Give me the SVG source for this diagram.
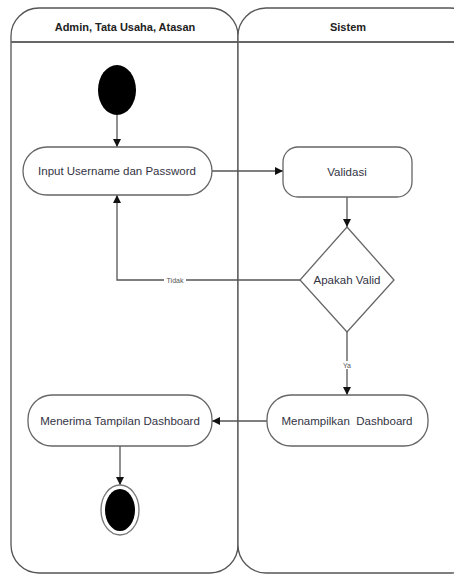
<svg xmlns="http://www.w3.org/2000/svg" width="454" height="575" viewBox="0 0 454 575">
<style>
.lane{fill:#fff;stroke:#555;stroke-width:1.3}
.hdr{font-family:"Liberation Sans",Arial,sans-serif;font-size:11px;font-weight:bold;fill:#222;text-anchor:middle}
.box{fill:#fff;stroke:#666;stroke-width:1.3}
.t{font-family:"Liberation Sans",Arial,sans-serif;font-size:11.5px;fill:#334;text-anchor:middle;dominant-baseline:central}
.c{fill:none;stroke:#555;stroke-width:1.3}
.lbl{font-family:"Liberation Sans",Arial,sans-serif;font-size:7px;fill:#555;text-anchor:middle;dominant-baseline:central}
</style>
<defs>
<marker id="ah" viewBox="0 0 10 10" refX="10" refY="5" markerWidth="8" markerHeight="8" markerUnits="userSpaceOnUse" orient="auto">
<path d="M0,0 L10,5 L0,10 z" fill="#111"/>
</marker>
</defs>
<g id="lane-admin">
<rect class="lane" x="11" y="8" width="227" height="565" rx="28" ry="28"/>
<line x1="11" y1="42" x2="238" y2="42" stroke="#666" stroke-width="2"/>
<text class="hdr" x="125" y="31">Admin, Tata Usaha, Atasan</text>
</g>
<g id="lane-sistem">
<rect class="lane" x="238" y="8" width="240" height="565" rx="28" ry="28"/>
<line x1="238" y1="42" x2="454" y2="42" stroke="#666" stroke-width="2"/>
<text class="hdr" x="348" y="31">Sistem</text>
</g>
<g id="connectors">
<line class="c" x1="117" y1="115" x2="117" y2="147" marker-end="url(#ah)"/>
<line class="c" x1="212" y1="171" x2="283" y2="171" marker-end="url(#ah)"/>
<line class="c" x1="347" y1="197" x2="347" y2="227" marker-end="url(#ah)"/>
<polyline class="c" points="300,280 117,280 117,195" marker-end="url(#ah)"/>
<rect x="164" y="276" width="22" height="8" fill="#fff"/>
<text class="lbl" x="175" y="280">Tidak</text>
<line class="c" x1="347" y1="332" x2="347" y2="395" marker-end="url(#ah)"/>
<rect x="340" y="361" width="14" height="8" fill="#fff"/>
<text class="lbl" x="347" y="365">Ya</text>
<line class="c" x1="267" y1="421" x2="212" y2="421" marker-end="url(#ah)"/>
<line class="c" x1="120" y1="446" x2="120" y2="485" marker-end="url(#ah)"/>
</g>
<g id="start">
<ellipse cx="117" cy="90" rx="19" ry="25" fill="#000"/>
</g>
<g id="input">
<rect class="box" x="23" y="147" width="189" height="48" rx="24" ry="24"/>
<text class="t" x="117" y="171">Input Username dan Password</text>
</g>
<g id="validasi">
<rect class="box" x="283" y="147" width="129" height="50" rx="15" ry="15"/>
<text class="t" x="347" y="172">Validasi</text>
</g>
<g id="decision">
<polygon class="box" points="347,227 394,280 347,332 300,280"/>
<text class="t" x="347" y="280">Apakah Valid</text>
</g>
<g id="menampilkan">
<rect class="box" x="267" y="395" width="161" height="51" rx="24" ry="24"/>
<text class="t" x="347" y="421" xml:space="preserve">Menampilkan  Dashboard</text>
</g>
<g id="menerima">
<rect class="box" x="28" y="395" width="184" height="51" rx="24" ry="24"/>
<text class="t" x="120" y="421">Menerima Tampilan Dashboard</text>
</g>
<g id="end">
<ellipse cx="120" cy="510" rx="19" ry="25" fill="#fff" stroke="#777" stroke-width="1.3"/>
<ellipse cx="120" cy="510" rx="15" ry="21" fill="#000"/>
</g>
</svg>
